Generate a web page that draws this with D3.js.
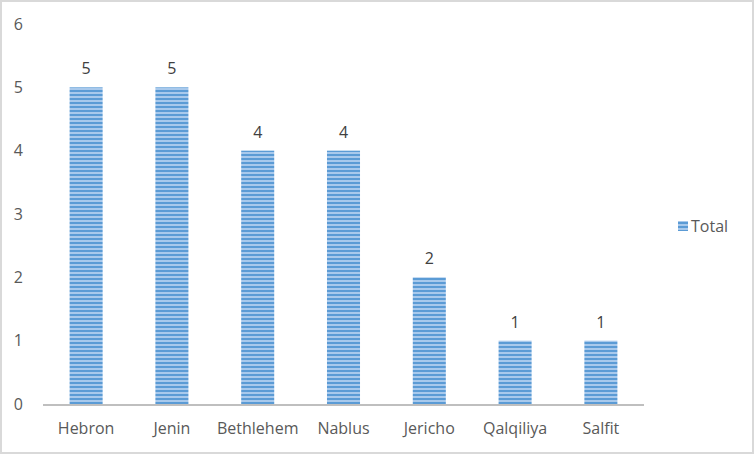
<!DOCTYPE html>
<html><head><meta charset="utf-8">
<script src="https://cdn.jsdelivr.net/npm/d3@7"></script>
<style>body{margin:0;background:#fff;}svg{display:block;font-family:"Open Sans",Lato,sans-serif;}</style>
</head><body>
<script>
const categories = ["Hebron","Jenin","Bethlehem","Nablus","Jericho","Qalqiliya","Salfit"];
const values = [5,5,4,4,2,1,1];
const yTicks = [0,1,2,3,4,5,6];
const seriesName = "Total";

const W = 754, H = 454;
const svg = d3.select("body").append("svg").attr("width", W).attr("height", H);

const defs = svg.append("defs");
const pat = defs.append("pattern").attr("id","stripes").attr("patternUnits","userSpaceOnUse")
  .attr("width", 8).attr("height", 4);
pat.append("rect").attr("width",8).attr("height",4).attr("fill","#a8c9ec");
pat.append("rect").attr("y",2).attr("width",8).attr("height",2).attr("fill","#5b9bd5");

svg.append("rect").attr("x",1).attr("y",1).attr("width",W-2).attr("height",H-2)
  .attr("fill","#fff").attr("stroke","#d9d9d9").attr("stroke-width",2);

const x = d3.scaleBand().domain(categories).range([43, 644]).paddingInner(0.615).paddingOuter(0.31);
const y = d3.scaleLinear().domain([0,6]).range([404, 24]);

const fs = 16;

// y tick labels
svg.append("g").selectAll("text").data(yTicks).join("text")
  .attr("x", 23).attr("y", d => y(d)).attr("dy","0.35em").attr("text-anchor","end")
  .attr("font-size", fs).attr("fill","#595959").text(d => d);

// bars
svg.append("g").selectAll("rect").data(values).join("rect")
  .attr("x",(d,i)=>x(categories[i])).attr("width", x.bandwidth())
  .attr("y", d => y(d)).attr("height", d => y(0)-y(d))
  .attr("fill","url(#stripes)");

// axis line
svg.append("line").attr("x1",43).attr("x2",644).attr("y1",y(0)+1).attr("y2",y(0)+1)
  .attr("stroke","#bfbfbf").attr("stroke-width",2);

// data labels
svg.append("g").selectAll("text").data(values).join("text")
  .attr("x",(d,i)=>x(categories[i])+x.bandwidth()/2).attr("y", d => y(d)-13)
  .attr("text-anchor","middle").attr("font-size",fs).attr("fill","#404040").text(d=>d);

// x labels
svg.append("g").selectAll("text").data(categories).join("text")
  .attr("x", d => x(d)+x.bandwidth()/2).attr("y", 434)
  .attr("text-anchor","middle").attr("font-size",fs).attr("fill","#595959").text(d=>d);

// legend
const lg = svg.append("g");
lg.append("rect").attr("x",678).attr("y",221).attr("width",10).attr("height",10).attr("fill","url(#stripes)");
lg.append("text").attr("x",691).attr("y",226).attr("dy","0.35em").attr("font-size",fs).attr("fill","#595959").text(seriesName);
</script>
</body></html>
